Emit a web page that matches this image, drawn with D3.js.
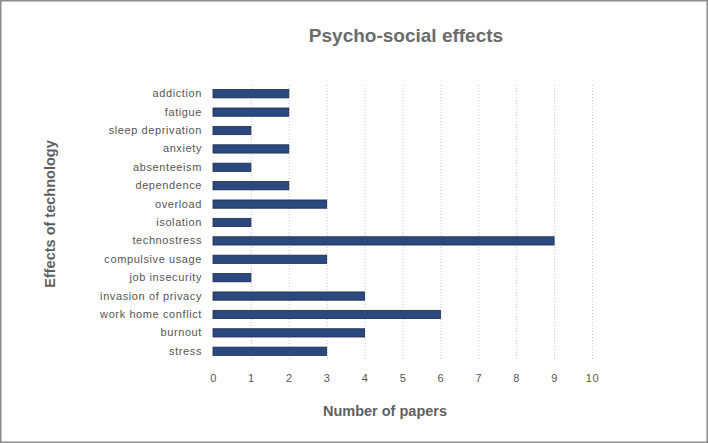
<!DOCTYPE html>
<html>
<head>
<meta charset="utf-8">
<title>Psycho-social effects</title>
<script src="https://d3js.org/d3.v7.min.js"></script>
<style>
body { margin: 0; background: #fff; }
svg text { font-family: "Liberation Sans", Arial, sans-serif; }
.tick text { fill: #555; font-size: 11px; letter-spacing: 0.6px; }
.grid line { stroke: #c8c8c8; stroke-dasharray: 1,2; }
</style>
</head>
<body>
<script>
// categories top to bottom, number of papers for each
var effects = ["addiction", "fatigue", "sleep deprivation", "anxiety", "absenteeism",
  "dependence", "overload", "isolation", "technostress", "compulsive usage",
  "job insecurity", "invasion of privacy", "work home conflict", "burnout", "stress"];
var papers = [2, 2, 1, 2, 1, 2, 3, 1, 9, 3, 1, 4, 6, 4, 3];
var xTicks = [0, 1, 2, 3, 4, 5, 6, 7, 8, 9, 10];

var W = 708, H = 443;
var margin = {top: 85, right: 116, bottom: 83, left: 213};

var svg = d3.select("body").append("svg")
    .attr("width", W)
    .attr("height", H);

// outer frame
svg.append("rect")
    .attr("x", 0.75).attr("y", 0.75)
    .attr("width", W - 1.5).attr("height", H - 1.5)
    .attr("fill", "#fff")
    .attr("stroke", "#8c8c8c")
    .attr("stroke-width", 1.5);

var x = d3.scaleLinear().domain([0, 10]).range([margin.left, W - margin.right]);
var y = d3.scaleBand().domain(effects)
    .range([margin.top, H - margin.bottom])
    .paddingInner(0.55).paddingOuter(0.25);

// dotted vertical gridlines
svg.append("g").attr("class", "grid")
  .selectAll("line").data(xTicks.slice(1)).enter()
  .append("line")
    .attr("x1", function(d) { return x(d) + 0.5; })
    .attr("x2", function(d) { return x(d) + 0.5; })
    .attr("y1", margin.top)
    .attr("y2", H - margin.bottom);

// bars
svg.append("g").selectAll("rect").data(effects).enter()
  .append("rect")
    .attr("x", x(0))
    .attr("y", function(d) { return y(d); })
    .attr("width", function(d, i) { return x(papers[i]) - x(0); })
    .attr("height", y.bandwidth())
    .attr("fill", "#2a4a7f")
    .attr("stroke", "#1c2b48")
    .attr("stroke-width", 0.8);

// axes without lines
var xAxis = svg.append("g")
    .attr("transform", "translate(0," + (H - margin.bottom + 8) + ")")
    .call(d3.axisBottom(x).tickValues(xTicks).tickSize(0).tickPadding(6));
xAxis.select(".domain").remove();

var yAxis = svg.append("g")
    .attr("transform", "translate(" + (margin.left - 11) + ",0)")
    .call(d3.axisLeft(y).tickSize(0).tickPadding(0));
yAxis.select(".domain").remove();

// titles
svg.append("text")
    .attr("x", 406).attr("y", 42)
    .attr("text-anchor", "middle")
    .attr("font-size", "19px").attr("font-weight", "bold")
    .attr("fill", "#6b6b6b")
    .text("Psycho-social effects");

svg.append("text")
    .attr("x", 385).attr("y", 416)
    .attr("text-anchor", "middle")
    .attr("font-size", "14.5px").attr("font-weight", "bold")
    .attr("fill", "#5f5f5f")
    .text("Number of papers");

svg.append("text")
    .attr("transform", "translate(55,214) rotate(-90)")
    .attr("text-anchor", "middle")
    .attr("font-size", "14.5px").attr("font-weight", "bold")
    .attr("fill", "#5f5f5f")
    .text("Effects of technology");
</script>
</body>
</html>
